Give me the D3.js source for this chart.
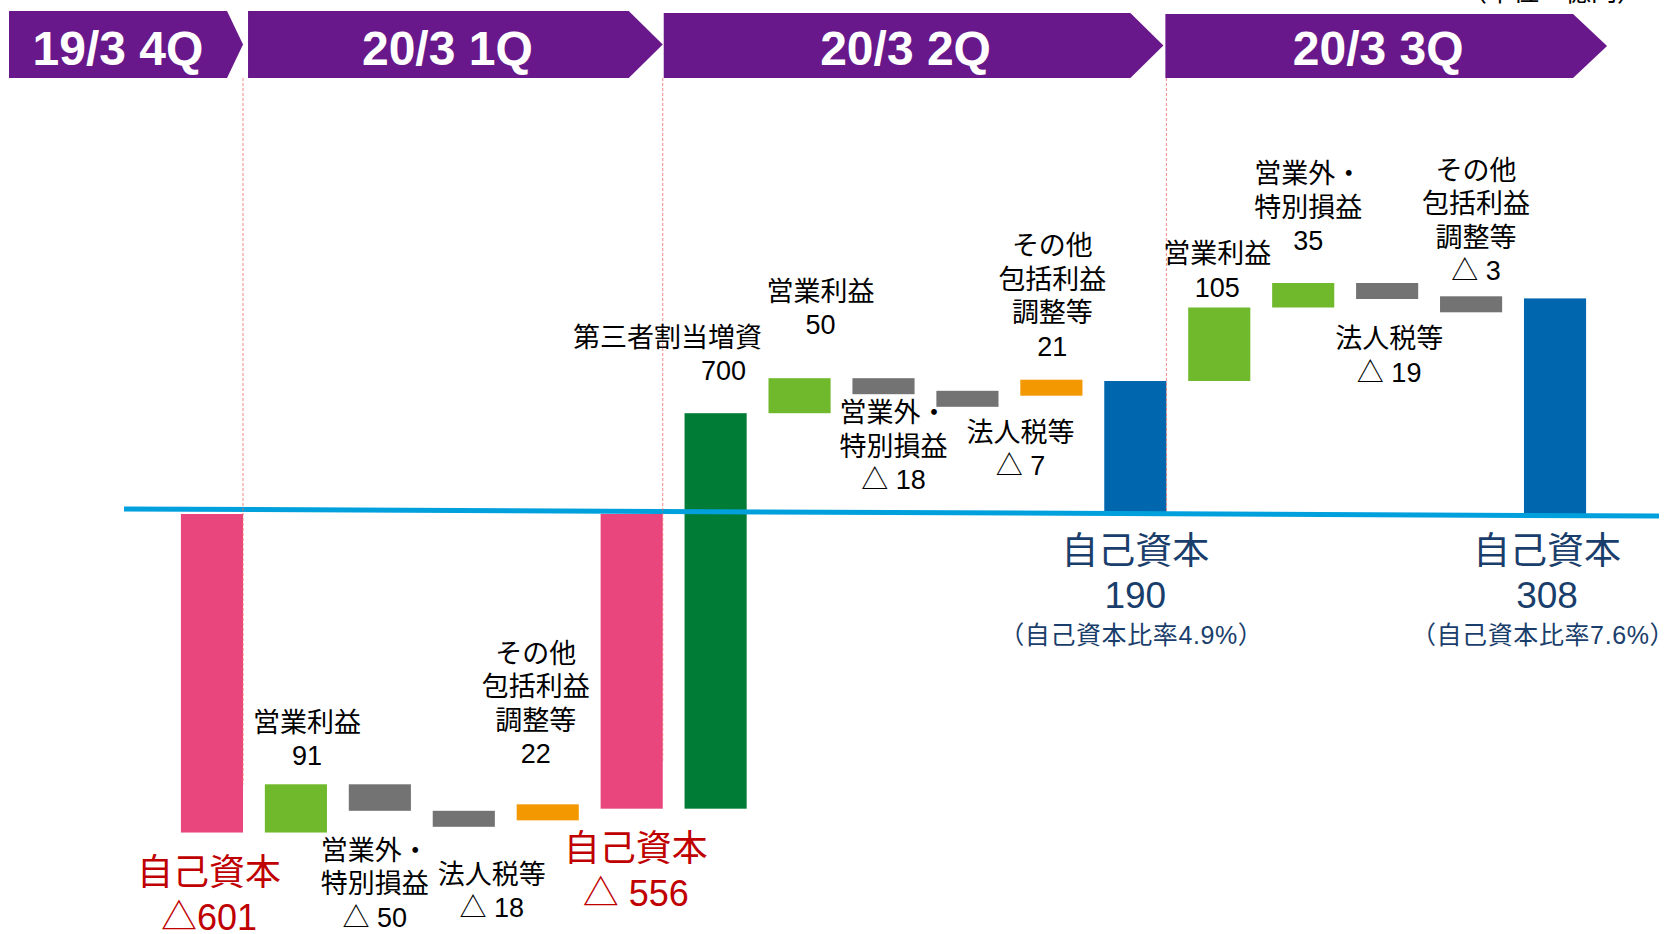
<!DOCTYPE html>
<html><head><meta charset="utf-8">
<script src="https://cdn.jsdelivr.net/npm/d3@7"></script>
<style>
html,body{margin:0;padding:0;background:#fff;overflow:hidden}
svg{display:block}
</style></head><body>
<svg id="chart" width="1678" height="934"></svg>
<script>
// ---------------- DATA ----------------
const quarters = ["19/3 4Q", "20/3 1Q", "20/3 2Q", "20/3 3Q"];
const categories = ["自己資本", "営業利益", "営業外・特別損益", "法人税等", "その他包括利益調整等",
  "自己資本", "第三者割当増資", "営業利益", "営業外・特別損益", "法人税等", "その他包括利益調整等",
  "自己資本", "営業利益", "営業外・特別損益", "法人税等", "その他包括利益調整等", "自己資本"];
const values = [-601, 91, -50, -18, 22, -556, 700, 50, -18, -7, 21, 190, 105, 35, -19, -3, 308];
const isTotal = [true, false, false, false, false, true, false, false, false, false, false, true, false, false, false, false, true];
const equityRatios = ["自己資本比率4.9%", "自己資本比率7.6%"];   // for the positive totals
const unitLabel = "（単位：億円）";
const categoryLines = {
  "営業利益": ["営業利益"],
  "営業外・特別損益": ["営業外・", "特別損益"],
  "法人税等": ["法人税等"],
  "その他包括利益調整等": ["その他", "包括利益", "調整等"],
  "第三者割当増資": ["第三者割当増資"],
  "自己資本": ["自己資本"]
};

// ---------------- LAYOUT / STYLE ----------------
const FONT = "'Liberation Sans','Noto Sans CJK JP',sans-serif";
const colors = {
  pink: "#e8467c", lightGreen: "#70b82c", gray: "#737373", orange: "#f39800",
  darkGreen: "#007c36", blue: "#0066ad", line: "#00a0dc", purple: "#68188a",
  red: "#c00000", navy: "#1a3e6b"
};
const labelSide = ["", "a", "b", "b", "a", "", "a", "a", "b", "b", "a", "", "a", "a", "b", "a", ""];
const labelDx   = [-3, 11, -5, 28, -12, 4, 8, 21, 10, 53, 1, 0, -2, 5, 2, 5, -8];
const labelDy   = [0, 0, 4, 12, -22, 0, -14, -25, -17, -10, -5, 0, 8, -14, 4, 3, 0];
const firstLineDx = {6: -56};
const minH = 16, lineH = 33.5;

const svg = d3.select("#chart");

// waterfall spans
let running = 0;
const items = values.map((v, i) => {
  let start, end;
  if (isTotal[i]) { start = 0; end = v; }
  else { start = running; end = running + v; }
  running = end;
  return {i, cat: categories[i], v, start, end, total: isTotal[i]};
});

const x = d3.scaleBand().domain(d3.range(values.length)).range([170, 1597])
  .paddingInner(0.26).paddingOuter(0.13);
const lo = d3.min(items, d => Math.min(d.start, d.end));
const hi = d3.max(items, d => Math.max(d.start, d.end));
const y = d3.scaleLinear().domain([lo, 0, hi]).range([514 + 0.53 * (-lo), 514, 514 - 0.7 * hi]);

function colorOf(d) {
  if (d.total) return d.v < 0 ? colors.pink : colors.blue;
  if (d.cat === "第三者割当増資") return colors.darkGreen;
  if (d.cat === "法人税等") return colors.gray;
  if (d.cat === "その他包括利益調整等") return d.v > 0 ? colors.orange : colors.gray;
  return d.v > 0 ? colors.lightGreen : colors.gray;
}
function geom(d) {
  const ys = y(d.start), ye = y(d.end);
  let top = Math.min(ys, ye), bot = Math.max(ys, ye);
  if (!d.total && bot - top < minH) {
    if (d.v < 0) { top = ys; bot = ys + minH; } else { bot = ys; top = ys - minH; }
  }
  return {top, bot};
}
items.forEach(d => Object.assign(d, geom(d)));

// ---------------- quarter banners ----------------
const totalIdx = items.filter(d => d.total).map(d => d.i);
const sep = totalIdx.slice(0, 3).map(i => x(i) + x.bandwidth());
const lastRight = x(values.length - 1) + x.bandwidth();
const banners = [
  {left: 9, tip: sep[0], depth: 16, top: 11},
  {left: sep[0] + 5, tip: sep[1], depth: 34, top: 11},
  {left: sep[1] + 1, tip: sep[2] - 3, depth: 33, top: 13},
  {left: sep[2] - 1, tip: lastRight + 21, depth: 34, top: 14}
].map((b, k) => Object.assign(b, {label: quarters[k], bottom: 78}));

svg.selectAll("path.banner").data(banners).join("path")
  .attr("class", "banner")
  .attr("fill", colors.purple)
  .attr("d", b => {
    const mid = (b.top + b.bottom) / 2;
    return `M${b.left},${b.top}L${b.tip - b.depth},${b.top}L${b.tip},${mid}L${b.tip - b.depth},${b.bottom}L${b.left},${b.bottom}Z`;
  });
svg.selectAll("text.banner").data(banners).join("text")
  .attr("class", "banner")
  .attr("x", b => (b.left + b.tip) / 2 - 8).attr("y", 65)
  .attr("text-anchor", "middle").attr("fill", "#fff")
  .attr("font-family", FONT).attr("font-weight", "bold").attr("font-size", 48)
  .text(b => b.label);

// unit label (cut off at top edge, as in the original)
svg.append("text").attr("x", 1552).attr("y", 1).attr("text-anchor", "middle")
  .attr("font-family", FONT).attr("font-size", 26).attr("fill", "#000").text(unitLabel);

// ---------------- bars ----------------
svg.selectAll("rect.bar").data(items).join("rect")
  .attr("class", "bar")
  .attr("x", d => x(d.i)).attr("width", x.bandwidth())
  .attr("y", d => d.top).attr("height", d => d.bot - d.top)
  .attr("fill", colorOf);

// baseline
svg.append("line").attr("x1", 124).attr("x2", 1659)
  .attr("y1", y(0) - 5).attr("y2", y(0) + 2)
  .attr("stroke", colors.line).attr("stroke-width", 5);

// quarter separators
const sepData = totalIdx.slice(0, 3).map((i, k) => {
  const d = items[i];
  return {x: sep[k], y2: d.v < 0 ? d.bot - 48 : y(0) - 3};
});
svg.selectAll("line.sep").data(sepData).join("line")
  .attr("class", "sep")
  .attr("x1", d => d.x).attr("x2", d => d.x).attr("y1", 78).attr("y2", d => d.y2)
  .attr("stroke", "#f06a6a").attr("stroke-width", 1).attr("stroke-dasharray", "3,2")
  .attr("opacity", 0.8);

// ---------------- labels ----------------
const fmtDelta = v => v < 0 ? "△ " + Math.abs(v) : String(v);

items.filter(d => !d.total).forEach(d => {
  const lines = categoryLines[d.cat].concat([fmtDelta(d.v)]);
  const cx = x(d.i) + x.bandwidth() / 2 + labelDx[d.i];
  const n = lines.length;
  const y0 = labelSide[d.i] === "a"
    ? d.top - 28 - (n - 1) * lineH + labelDy[d.i]
    : d.bot + 36 + labelDy[d.i];
  lines.forEach((t, j) => {
    svg.append("text")
      .attr("x", cx + (j === 0 && firstLineDx[d.i] ? firstLineDx[d.i] : 0))
      .attr("y", y0 + j * lineH)
      .attr("dominant-baseline", "central").attr("text-anchor", "middle")
      .attr("font-family", FONT).attr("font-size", 27).attr("fill", "#000")
      .text(t);
  });
});

let posCount = 0;
items.filter(d => d.total).forEach((d, k) => {
  const cx = x(d.i) + x.bandwidth() / 2 + labelDx[d.i];
  if (d.v < 0) {
    const valTxt = "△" + (k === 0 ? "" : " ") + Math.abs(d.v);
    [categoryLines[d.cat][0], valTxt].forEach((t, j) => {
      svg.append("text").attr("x", cx).attr("y", d.bot + 40 + j * 45)
        .attr("dominant-baseline", "central").attr("text-anchor", "middle")
        .attr("font-family", FONT).attr("font-size", 36).attr("fill", colors.red).text(t);
    });
  } else {
    const base = y(0);
    [categoryLines[d.cat][0], String(d.v)].forEach((t, j) => {
      svg.append("text").attr("x", cx).attr("y", base + 37 + j * 44)
        .attr("dominant-baseline", "central").attr("text-anchor", "middle")
        .attr("font-family", FONT).attr("font-size", 37).attr("fill", colors.navy).text(t);
    });
    svg.append("text").attr("x", cx - 4).attr("y", base + 121)
      .attr("dominant-baseline", "central").attr("text-anchor", "middle")
      .attr("font-family", FONT).attr("font-size", 25).attr("letter-spacing", 0.6)
      .attr("fill", colors.navy)
      .text("（" + equityRatios[posCount] + "）");
    posCount++;
  }
});
</script>
</body></html>
